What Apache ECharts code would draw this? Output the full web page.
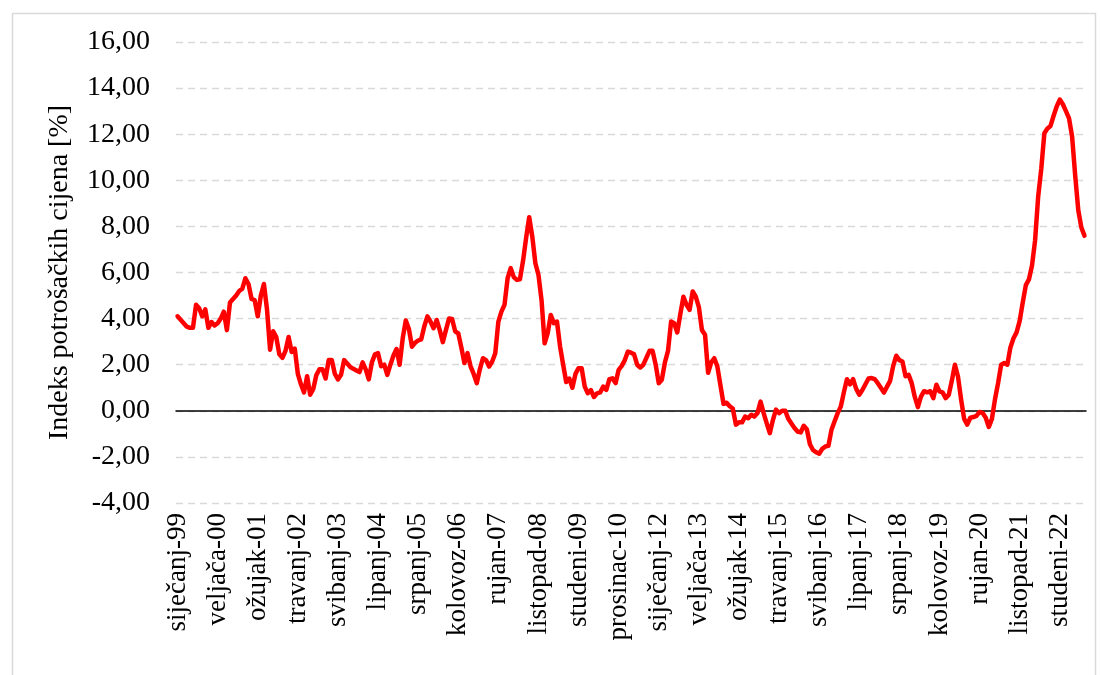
<!DOCTYPE html>
<html>
<head>
<meta charset="utf-8">
<script src="https://cdn.jsdelivr.net/npm/echarts@6/dist/echarts.min.js"></script>
<style>
  html, body { margin: 0; padding: 0; background: #fff; }
  #main { width: 1101px; height: 675px; }
</style>
</head>
<body>
<div id="main"></div>
<script>
// nazivi mjeseci i početna godina (siječanj 1999 - srpanj 2023)
const monthNames = ['siječanj', 'veljača', 'ožujak', 'travanj', 'svibanj', 'lipanj',
  'srpanj', 'kolovoz', 'rujan', 'listopad', 'studeni', 'prosinac'];
const startYear = 1999;

// godišnja stopa inflacije [%], po mjesecima
const cpi1999_2002 = [
  4.1, 3.95, 3.8, 3.65, 3.6, 3.6, 4.6, 4.45, 4.1, 4.4, 3.6, 3.85,
  3.7, 3.8, 4.0, 4.3, 3.5, 4.7, 4.85, 5.0, 5.2, 5.3, 5.75, 5.5,
  4.85, 4.8, 4.1, 5.0, 5.5, 4.4, 2.65, 3.45, 3.2, 2.45, 2.3, 2.6,
  3.2, 2.55, 2.7, 1.6, 1.15, 0.8, 1.5, 0.7, 0.95, 1.55, 1.8, 1.8
];
const cpi2003_2006 = [
  1.4, 2.2, 2.2, 1.6, 1.36, 1.56, 2.2, 2.05, 1.9, 1.82, 1.75, 1.68,
  2.1, 1.8, 1.36, 2.1, 2.45, 2.5, 1.93, 2.0, 1.56, 2.0, 2.4, 2.68,
  2.0, 3.15, 3.92, 3.55, 2.78, 2.95, 3.05, 3.1, 3.67, 4.1, 3.87, 3.58,
  3.94, 3.5, 2.98, 3.5, 4.0, 3.98, 3.45, 3.36, 2.75, 2.07, 2.5, 1.93
];
const cpi2007_2010 = [
  1.6, 1.2, 1.8, 2.28, 2.2, 1.92, 2.14, 2.5, 3.87, 4.3, 4.6, 5.75,
  6.19, 5.8, 5.68, 5.71, 6.5, 7.5, 8.4, 7.56, 6.4, 5.9, 4.8, 2.93,
  3.37, 4.16, 3.8, 3.87, 2.8, 2.0, 1.25, 1.4, 1.0, 1.6, 1.85, 1.85,
  1.05, 0.76, 0.9, 0.6, 0.76, 0.8, 1.05, 0.91, 1.37, 1.41, 1.2, 1.78
];
const cpi2011_2014 = [
  1.95, 2.2, 2.57, 2.52, 2.45, 2.0, 1.88, 2.0, 2.3, 2.6, 2.6, 2.0,
  1.2, 1.35, 2.1, 2.6, 3.87, 3.8, 3.4, 4.2, 4.95, 4.6, 4.38, 5.18,
  4.95, 4.5, 3.5, 3.3, 1.65, 2.1, 2.28, 1.92, 1.1, 0.3, 0.35, 0.2,
  0.1, -0.6, -0.5, -0.5, -0.25, -0.32, -0.17, -0.25, -0.1, 0.4, -0.1, -0.55
];
const cpi2015_2018 = [
  -0.97, -0.4, 0.05, -0.1, 0.0, 0.0, -0.35, -0.55, -0.75, -0.9, -0.94, -0.65,
  -0.8, -1.45, -1.7, -1.8, -1.86, -1.65, -1.55, -1.52, -0.82, -0.45, -0.1, 0.18,
  0.8, 1.37, 1.15, 1.37, 0.95, 0.7, 0.9, 1.15, 1.4, 1.42, 1.37, 1.2,
  1.0, 0.79, 1.05, 1.3, 1.95, 2.39, 2.2, 2.14, 1.5, 1.56, 1.2, 0.6
];
const cpi2019_2023 = [
  0.16, 0.62, 0.85, 0.8, 0.85, 0.55, 1.13, 0.84, 0.8, 0.55, 0.69, 1.3,
  2.0, 1.49, 0.5, -0.35, -0.6, -0.3, -0.27, -0.22, -0.05, -0.1, -0.3, -0.7,
  -0.35, 0.5, 1.2, 2.0, 2.07, 2.0, 2.75, 3.15, 3.4, 3.9, 4.7, 5.45,
  5.7, 6.3, 7.4, 9.3, 10.5, 12.04, 12.25, 12.36, 12.8, 13.2, 13.5, 13.3,
  13.0, 12.69, 11.89, 10.2, 8.7, 7.95, 7.6
];

const cpi = [].concat(cpi1999_2002, cpi2003_2006, cpi2007_2010, cpi2011_2014, cpi2015_2018, cpi2019_2023);

// oznake kategorija npr. "siječanj-99"
const months = cpi.map(function (v, i) {
  const yy = (startYear + Math.floor(i / 12)) % 100;
  return monthNames[i % 12] + '-' + (yy < 10 ? '0' + yy : '' + yy);
});

const fontFam = '"Liberation Serif", "Times New Roman", serif';

let chart = echarts.init(document.getElementById('main'));
chart.setOption({
  animation: false,
  backgroundColor: '#fff',
  graphic: [{
    type: 'rect',
    left: 10, top: 11,
    shape: { width: 1083, height: 700 },
    style: { fill: 'none', stroke: '#d9d9d9', lineWidth: 1.5 },
    silent: true,
    z: -10
  }],
  grid: { left: 176, right: 15, top: 42, bottom: 172 },
  xAxis: [
    {
      // os na nuli s crticama
      type: 'category',
      data: months,
      boundaryGap: true,
      position: 'bottom',
      axisLine: { onZero: true, lineStyle: { color: '#000', width: 1.5 } },
      axisTick: { interval: 12, length: 7, lineStyle: { color: '#000', width: 1.5 } },
      axisLabel: { show: false },
      splitLine: { show: false }
    },
    {
      // oznake mjeseci ispod grafa
      type: 'category',
      data: months,
      boundaryGap: true,
      position: 'bottom',
      axisLine: { show: false, onZero: false },
      axisTick: { show: false },
      axisLabel: {
        interval: 12,
        rotate: 90,
        margin: 10,
        color: '#000',
        fontSize: 27,
        fontFamily: fontFam
      },
      splitLine: { show: false }
    }
  ],
  yAxis: {
    type: 'value',
    min: -4,
    max: 16,
    interval: 2,
    name: 'Indeks potrošačkih cijena [%]',
    nameLocation: 'middle',
    nameGap: 102,
    nameTextStyle: { color: '#000', fontSize: 28, fontFamily: fontFam },
    axisLine: { show: false },
    axisTick: { show: false },
    axisLabel: {
      margin: 26,
      color: '#000',
      fontSize: 28,
      fontFamily: fontFam,
      formatter: function (v) { return v.toFixed(2).replace('.', ','); }
    },
    splitLine: { lineStyle: { color: '#d9d9d9', width: 1.3, type: [7, 5] } }
  },
  series: [{
    type: 'line',
    xAxisIndex: 0,
    data: cpi,
    showSymbol: false,
    lineStyle: { color: '#ff0000', width: 4.5, cap: 'round', join: 'round' },
    itemStyle: { color: '#ff0000' }
  }]
});
</script>
</body>
</html>
